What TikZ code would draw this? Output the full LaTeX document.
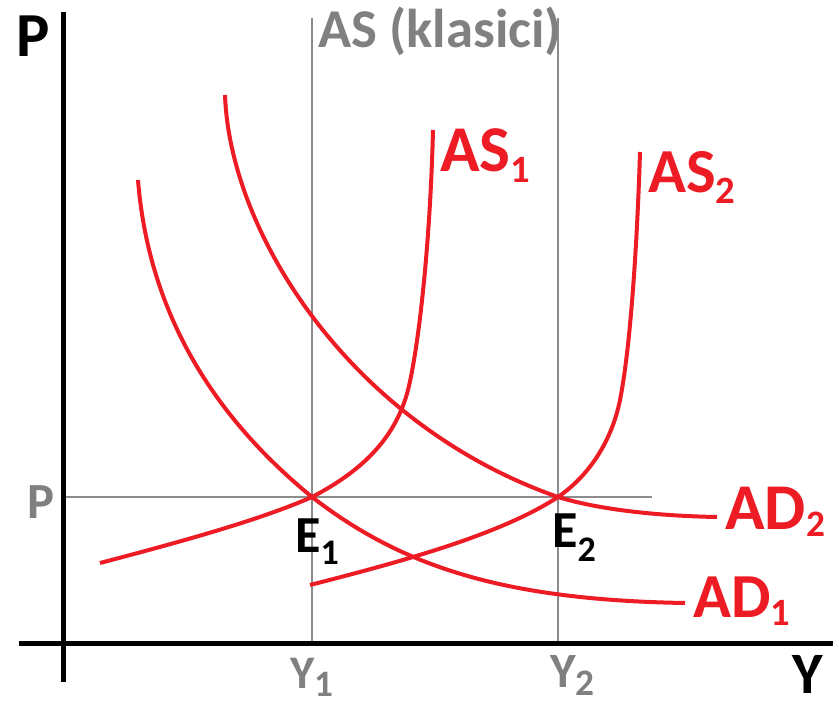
\documentclass[tikz,border=0pt]{standalone}
\usepackage{fontspec}
\setmainfont{Carlito}
\definecolor{myred}{RGB}{237,28,36}
\definecolor{mygray}{RGB}{128,128,128}
\definecolor{linegray}{RGB}{140,140,140}
\newcommand\fs[1]{\fontsize{#1}{#1}\selectfont}
\newcommand\subx[3]{\raisebox{-#1}{\fs{#2}#3}}
\begin{document}
\begin{tikzpicture}[x=0.75pt,y=-0.75pt,
  lbl/.style={inner sep=0pt,anchor=base west,font=\bfseries},
  redc/.style={draw=myred,line width=3pt,line cap=butt},
  axisl/.style={draw=black,line width=3.75pt},
  grid/.style={draw=linegray,line width=1.3pt}]
\useasboundingbox (0,0) rectangle (839,705);
% gray guides
\coordinate (g1t) at (312,18); \coordinate (g1b) at (312,643);
\coordinate (g2t) at (558,18); \coordinate (g2b) at (558,643);
\coordinate (hl) at (63,497); \coordinate (hr) at (652,497);
\draw[grid] (g1t) -- (g1b);
\draw[grid] (g2t) -- (g2b);
\draw[grid] (hl) -- (hr);
% axes
\coordinate (yt) at (63,12); \coordinate (yb) at (63,682);
\coordinate (xl) at (19,643); \coordinate (xr) at (833,643);
\draw[axisl] (yt) -- (yb);
\draw[axisl] (xl) -- (xr);
% key points
\coordinate (E1) at (312,497);
\coordinate (E2) at (558,497);
% AD1
\draw[redc] (138,180) .. controls (150,330) and (230,430) .. (E1)
  .. controls (400,565) and (500,600) .. (685,603);
% AD2
\draw[redc] (225,95) .. controls (230,235) and (352,425) .. (E2)
  .. controls (600,510) and (660,516) .. (717,517);
% AS1
\draw[redc] (100,563) .. controls (180,542) and (260,520) .. (E1)
  .. controls (360,472) and (395,440) .. (408,390)
  .. controls (418,350) and (430,250) .. (433,130);
% AS2
\draw[redc] (310,585) .. controls (400,562) and (500,535) .. (E2)
  .. controls (590,475) and (612,440) .. (620,400)
  .. controls (630,350) and (637,250) .. (640,152);
% labels
\node[lbl,text=black] (lp) at (16,57) {\fs{47pt}P};
\node[lbl,text=mygray] (las) at (318,48) {\fs{41pt}AS (klasici)};
\node[lbl,text=myred] (las1) at (440,172) {\fs{49pt}AS\subx{8pt}{29pt}{1}};
\node[lbl,text=myred] (las2) at (648,193) {\fs{47pt}AS\subx{8pt}{29pt}{2}};
\node[lbl,text=myred] (lad2) at (725,530) {\fs{49pt}AD\subx{5pt}{28pt}{2}};
\node[lbl,text=myred] (lad1) at (693,617) {\fs{47pt}AD\subx{6pt}{29pt}{1}};
\node[lbl,text=black] (le1) at (295,553) {\fs{39pt}E\subx{9pt}{27pt}{1}};
\node[lbl,text=black] (le2) at (552,548) {\fs{39pt}E\subx{10pt}{27pt}{2}};
\node[lbl,text=mygray] (lpp) at (27,519) {\fs{38pt}P};
\node[lbl,text=mygray] (ly1) at (290,688) {\fs{35pt}Y\subx{6pt}{28pt}{1}};
\node[lbl,text=mygray] (ly2) at (550,687) {\fs{37pt}Y\subx{6pt}{28pt}{2}};
\node[lbl,text=black,text depth=0pt] (ly) at (792,693) {\fs{44pt}Y};
\end{tikzpicture}
\end{document}
